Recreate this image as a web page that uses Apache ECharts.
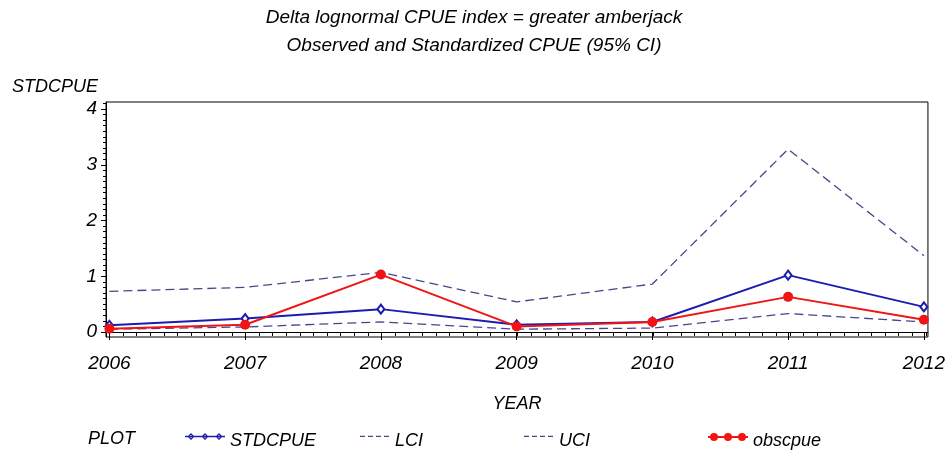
<!DOCTYPE html>
<html>
<head>
<meta charset="utf-8">
<script src="https://cdn.jsdelivr.net/npm/echarts@6/dist/echarts.min.js"></script>
<style>
  html, body { margin: 0; padding: 0; background: #fff; }
  #chart { width: 948px; height: 450px; }
</style>
</head>
<body>
<div id="chart"></div>
<script>
// Greater amberjack delta-lognormal CPUE index, 2006-2012
const years    = [2006, 2007, 2008, 2009, 2010, 2011, 2012];
const stdcpue  = [0.12, 0.24, 0.41, 0.13, 0.18, 1.02, 0.45];
const lci      = [0.05, 0.09, 0.18, 0.05, 0.07, 0.33, 0.18];
const uci      = [0.73, 0.80, 1.07, 0.54, 0.86, 3.28, 1.37];
const obscpue  = [0.06, 0.13, 1.03, 0.10, 0.18, 0.63, 0.22];

const yTicks = [0, 1, 2, 3, 4];
const xTicks = years;

// minor tick positions: ten steps per unit on both axes
const xMinor = [];
for (let i = 0; i <= 60; i++) xMinor.push(+(2006 + i / 10).toFixed(1));
const yMinor = [];
for (let i = 0; i <= 41; i++) yMinor.push(+(i / 10).toFixed(1));

const pair = (vals) => years.map((y, i) => [y, vals[i]]);

const FONT = '"Liberation Sans", Arial, sans-serif';
const txt = { fontFamily: FONT, fontStyle: 'italic', color: '#000' };

const BLUE = '#1c1cb0';
const RED = '#f01414';
const DASH = '#46468c';

const X_MIN = 2005.975, X_MAX = 2012.03;
const Y_MIN = -0.09, Y_MAX = 4.126;

const gridRect = { left: 106, top: 102, right: 18, bottom: 113 };

// legend icon shapes; the glyph sits in the upper half of the box and
// a tiny speck at the bottom corner pins the box height to 16
const PIN = 'M0 16L0.01 16L0.01 15.99Z';
const iconDiamondLine = 'path://M0 2.8L40 2.8L40 4.2L0 4.2Z' +
  'M6 0L9.5 3.5L6 7L2.5 3.5Z M6 1.8L4.3 3.5L6 5.2L7.7 3.5Z' +
  'M20 0L23.5 3.5L20 7L16.5 3.5Z M20 1.8L18.3 3.5L20 5.2L21.7 3.5Z' +
  'M34 0L37.5 3.5L34 7L30.5 3.5Z M34 1.8L32.3 3.5L34 5.2L35.7 3.5Z' + PIN;
const iconDots = 'path://M0 3.1L40 3.1L40 4.9L0 4.9Z' +
  'M2 4A4 4 0 1 1 10 4A4 4 0 1 1 2 4Z' +
  'M16 4A4 4 0 1 1 24 4A4 4 0 1 1 16 4Z' +
  'M30 4A4 4 0 1 1 38 4A4 4 0 1 1 30 4Z' + PIN;
// 30 x 16 box: four short dashes
const iconDash = 'path://M0 5.4L5 5.4L5 6.6L0 6.6Z M8 5.4L13 5.4L13 6.6L8 6.6Z' +
  'M16 5.4L21 5.4L21 6.6L16 6.6Z M24 5.4L29 5.4L29 6.6L24 6.6Z M30 16L29.99 16L29.99 15.99Z' + PIN;

function legendAt(left, name, icon, color, w) {
  return {
    left: left, top: 427, orient: 'horizontal',
    selectedMode: false,
    itemWidth: w, itemHeight: 16,
    textStyle: Object.assign({ fontSize: 18 }, txt),
    data: [{ name: name, icon: icon, itemStyle: { color: color, borderWidth: 0 } }]
  };
}

const chart = echarts.init(document.getElementById('chart'), null, { renderer: 'canvas' });

chart.setOption({
  animation: false,
  backgroundColor: '#fff',
  title: [
    { text: 'Delta lognormal CPUE index = greater amberjack', left: 'center', top: 3,
      textStyle: Object.assign({ fontSize: 19, fontWeight: 'normal' }, txt) },
    { text: 'Observed and Standardized CPUE (95% CI)', left: 'center', top: 31,
      textStyle: Object.assign({ fontSize: 19, fontWeight: 'normal' }, txt) }
  ],
  graphic: [
    { type: 'text', left: 88, top: 430,
      style: { text: 'PLOT', fill: '#000', fontSize: 18, fontStyle: 'italic', fontFamily: FONT } }
  ],
  legend: [
    legendAt(180, 'STDCPUE', iconDiamondLine, BLUE, 40),
    legendAt(355, 'LCI', iconDash, DASH, 30),
    legendAt(519, 'UCI', iconDash, DASH, 30),
    legendAt(703, 'obscpue', iconDots, RED, 40)
  ],
  grid: [
    Object.assign({ show: true, borderColor: '#000', borderWidth: 1, backgroundColor: '#fff' }, gridRect),
    Object.assign({ show: false }, gridRect)
  ],
  xAxis: [
    {
      type: 'value', gridIndex: 0, min: X_MIN, max: X_MAX,
      name: 'YEAR', nameLocation: 'middle', nameGap: 58,
      nameTextStyle: Object.assign({ fontSize: 18 }, txt),
      axisLine: { show: true, lineStyle: { color: '#000', width: 1 } },
      axisTick: { show: true, length: 8, customValues: xTicks, lineStyle: { color: '#000' } },
      axisLabel: Object.assign({ fontSize: 19, margin: 17, customValues: xTicks, formatter: v => String(v) }, txt),
      splitLine: { show: false }
    },
    {
      type: 'value', gridIndex: 1, min: X_MIN, max: X_MAX,
      axisLine: { show: false },
      axisTick: { show: true, length: 4, customValues: xMinor, lineStyle: { color: '#000' } },
      axisLabel: { show: false },
      splitLine: { show: false }
    }
  ],
  yAxis: [
    {
      type: 'value', gridIndex: 0, min: Y_MIN, max: Y_MAX,
      name: 'STDCPUE', nameLocation: 'end', nameGap: 0,
      nameTextStyle: Object.assign({ fontSize: 18, align: 'left', verticalAlign: 'bottom', padding: [0, 0, 6, -94] }, txt),
      axisLine: { show: true, lineStyle: { color: '#000', width: 1 } },
      axisTick: { show: true, length: 5, customValues: yTicks, lineStyle: { color: '#000' } },
      axisLabel: Object.assign({ fontSize: 19, margin: 9, customValues: yTicks, formatter: v => String(v) }, txt),
      splitLine: { show: false }
    },
    {
      type: 'value', gridIndex: 1, min: Y_MIN, max: Y_MAX,
      axisLine: { show: false },
      axisTick: { show: true, length: 3, customValues: yMinor, lineStyle: { color: '#000' } },
      axisLabel: { show: false },
      splitLine: { show: false }
    }
  ],
  series: [
    {
      name: 'UCI', type: 'line', xAxisIndex: 0, yAxisIndex: 0,
      data: pair(uci), showSymbol: false, symbol: 'none',
      lineStyle: { color: DASH, width: 1.3, type: [9, 5] },
      itemStyle: { color: DASH }, z: 2
    },
    {
      name: 'LCI', type: 'line', xAxisIndex: 0, yAxisIndex: 0,
      data: pair(lci), showSymbol: false, symbol: 'none',
      lineStyle: { color: DASH, width: 1.3, type: [9, 5] },
      itemStyle: { color: DASH }, z: 2
    },
    {
      name: 'STDCPUE', type: 'line', xAxisIndex: 0, yAxisIndex: 0,
      data: pair(stdcpue), symbol: 'emptyDiamond', symbolSize: [7, 9],
      lineStyle: { color: BLUE, width: 2 },
      itemStyle: { color: BLUE, borderColor: BLUE, borderWidth: 1 }, z: 3
    },
    {
      name: 'obscpue', type: 'line', xAxisIndex: 0, yAxisIndex: 0,
      data: pair(obscpue), symbol: 'circle', symbolSize: 10,
      lineStyle: { color: RED, width: 2 },
      itemStyle: { color: RED }, z: 4
    }
  ]
});
</script>
</body>
</html>
